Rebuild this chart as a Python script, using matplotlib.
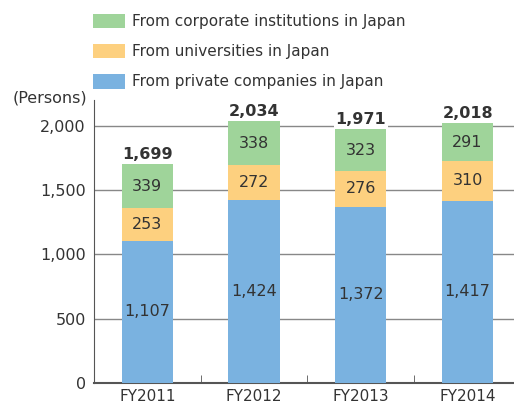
import matplotlib.pyplot as plt
import numpy as np

# data
years = ['FY2011', 'FY2012', 'FY2013', 'FY2014']
private = [1107, 1424, 1372, 1417]
universities = [253, 272, 276, 310]
corporate = [339, 338, 323, 291]
totals = [1699, 2034, 1971, 2018]

c_private = '#7ab2e0'
c_univ = '#fdd07f'
c_corp = '#9fd49a'
txt = '#333333'

plt.rcParams['font.family'] = ['DejaVu Sans']
fig = plt.figure(figsize=(5.14, 4.09), dpi=100)
ax = fig.add_axes([94 / 514, 26 / 409, 1 - 94 / 514, (383 - 100) / 409 * 1.0])

x = np.arange(len(years))
w = 0.48
b1 = ax.bar(x, private, w, color=c_private, zorder=3, label='From private companies in Japan')
b2 = ax.bar(x, universities, w, bottom=private, color=c_univ, zorder=3,
            label='From universities in Japan')
bottom3 = [p + u for p, u in zip(private, universities)]
b3 = ax.bar(x, corporate, w, bottom=bottom3, color=c_corp, zorder=3,
            label='From corporate institutions in Japan')

# segment labels
for i in range(len(years)):
    ax.text(x[i], private[i] / 2, f'{private[i]:,}', ha='center', va='center',
            fontsize=11.5, color=txt, zorder=4)
    ax.text(x[i], private[i] + universities[i] / 2, f'{universities[i]:,}', ha='center',
            va='center', fontsize=11.5, color=txt, zorder=4)
    ax.text(x[i], bottom3[i] + corporate[i] / 2, f'{corporate[i]:,}', ha='center',
            va='center', fontsize=11.5, color=txt, zorder=4)
    ax.text(x[i], totals[i] + 20, f'{totals[i]:,}', ha='center', va='bottom',
            fontsize=11.5, fontweight='bold', color=txt, zorder=4,
            bbox=dict(facecolor='white', edgecolor='none', pad=1))

ax.set_xlim(-0.5, 3.5 - 7 / 107)
ax.set_ylim(0, 2200)
ax.set_yticks([0, 500, 1000, 1500, 2000])
ax.set_yticklabels(['0', '500', '1,000', '1,500', '2,000'])
ax.yaxis.grid(True, color='#888888', linewidth=1, zorder=0)
ax.set_xticks(x)
ax.set_xticklabels(years)
ax.tick_params(axis='x', length=0, labelsize=11, colors=txt, pad=4)
ax.tick_params(axis='y', length=0, labelsize=11.5, colors=txt, pad=6)

# tick marks between categories
ax.set_xticks([0.5, 1.5, 2.5], minor=True)
ax.tick_params(axis='x', which='minor', direction='in', length=6, color='#555555')

for s in ['top', 'right']:
    ax.spines[s].set_visible(False)
ax.spines['left'].set_color('#555555')
ax.spines['bottom'].set_color('#555555')
ax.spines['bottom'].set_linewidth(1.5)

fig.text(13 / 514, 1 - 98 / 409, '(Persons)', fontsize=11.5, color=txt, va='center')

handles = [b3, b2, b1]
fig.legend(handles, [h.get_label() for h in handles], loc='upper left',
           bbox_to_anchor=(79 / 514, 1.0), frameon=False, fontsize=11,
           handlelength=2.1, handleheight=1.1, labelspacing=0.95, handletextpad=0.5,
           labelcolor=txt)

plt.savefig('out.png')
